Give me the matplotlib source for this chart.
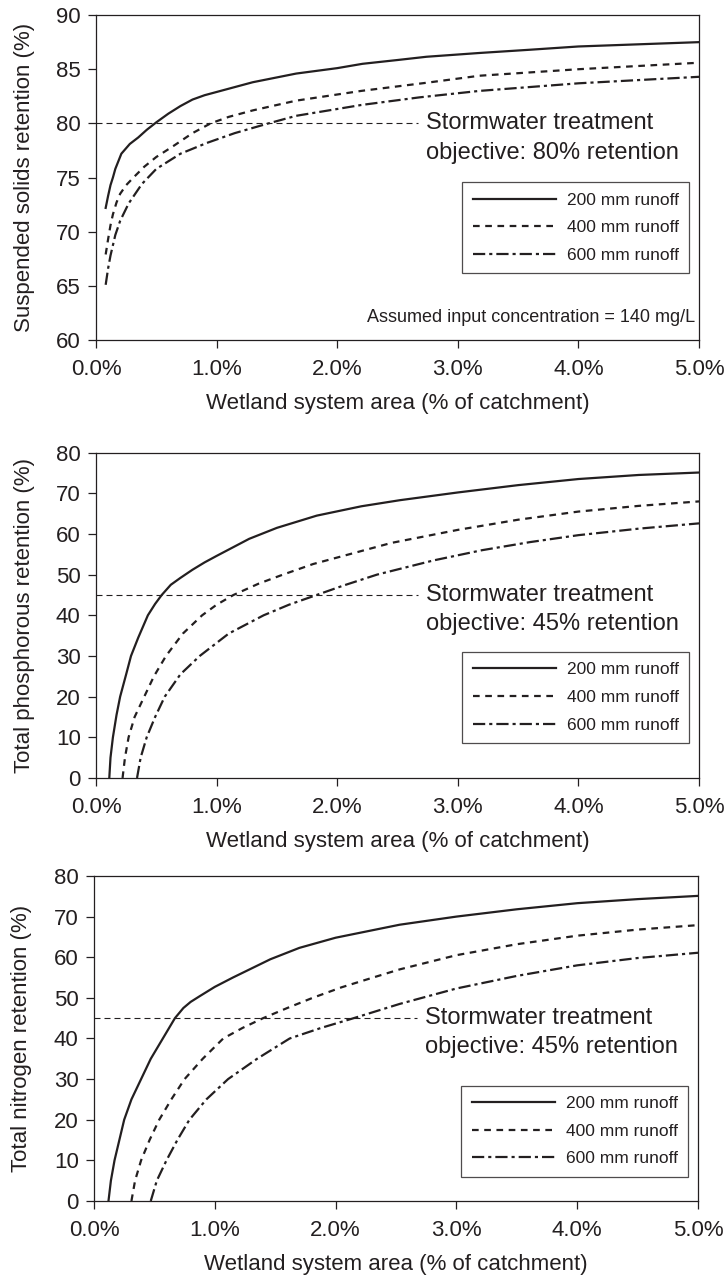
import numpy as np
import matplotlib
matplotlib.use("Agg")
import matplotlib.pyplot as plt

plt.rcParams['font.family'] = ['Liberation Sans', 'DejaVu Sans']

INK = '#231f20'

# x = wetland area (% of catchment), y = retention (%)
#%% suspended solids
ss_x_200 = [0.08, 0.10, 0.12, 0.14, 0.16, 0.21, 0.28, 0.35, 0.42, 0.50, 0.60, 0.70, 0.80, 0.90, 1.00,
            1.30, 1.66, 2.00, 2.21, 2.50, 2.74, 3.18, 3.60, 4.00, 4.50, 5.00]
ss_y_200 = [72.2, 73.3, 74.3, 75.0, 75.8, 77.2, 78.1, 78.7, 79.4, 80.1, 80.9, 81.6, 82.2, 82.6, 82.9,
            83.8, 84.6, 85.1, 85.5, 85.85, 86.15, 86.5, 86.8, 87.1, 87.3, 87.5]
ss_x_400 = [0.08, 0.10, 0.12, 0.14, 0.17, 0.20, 0.25, 0.31, 0.40, 0.50, 0.64, 0.80, 0.95, 1.10, 1.30,
            1.66, 2.20, 2.74, 3.18, 4.00, 4.50, 5.00]
ss_y_400 = [67.9, 69.3, 70.6, 71.6, 72.7, 73.5, 74.3, 75.0, 76.0, 76.9, 77.9, 79.1, 80.0, 80.6, 81.2,
            82.1, 83.0, 83.75, 84.4, 85.0, 85.3, 85.6]
ss_x_600 = [0.08, 0.10, 0.12, 0.16, 0.20, 0.27, 0.38, 0.50, 0.70, 0.92, 1.15, 1.43, 1.66, 2.20, 2.68,
            3.18, 4.00, 4.50, 5.00]
ss_y_600 = [65.1, 66.6, 67.8, 69.7, 71.0, 72.6, 74.4, 75.8, 77.2, 78.2, 79.1, 80.0, 80.7, 81.7, 82.4,
            83.0, 83.7, 84.0, 84.3]

#%% total phosphorous
tp_x_200 = [0.11, 0.12, 0.14, 0.17, 0.20, 0.25, 0.29, 0.35, 0.43, 0.49, 0.545, 0.62, 0.70, 0.80, 0.90,
            1.00, 1.27, 1.50, 1.83, 2.20, 2.52, 3.00, 3.50, 4.00, 4.50, 5.00]
tp_y_200 = [0.0, 5.0, 10.0, 15.5, 20.0, 25.5, 30.0, 34.5, 40.0, 42.8, 45.0, 47.5, 49.2, 51.2, 53.0,
            54.6, 58.8, 61.5, 64.5, 66.8, 68.3, 70.2, 72.0, 73.5, 74.5, 75.1]
tp_x_400 = [0.22, 0.24, 0.27, 0.32, 0.40, 0.48, 0.58, 0.72, 0.88, 1.00, 1.14, 1.35, 1.55, 1.80, 2.10,
            2.45, 3.00, 3.50, 4.00, 4.50, 5.00]
tp_y_400 = [0.0, 5.0, 10.0, 15.0, 20.0, 25.0, 30.0, 35.5, 40.0, 42.6, 45.0, 47.8, 50.0, 52.6, 55.0,
            57.8, 61.0, 63.5, 65.5, 66.9, 68.0]
tp_x_600 = [0.34, 0.37, 0.42, 0.49, 0.57, 0.70, 0.86, 1.10, 1.39, 1.60, 1.83, 2.05, 2.33, 2.80, 3.20,
            3.60, 4.00, 4.50, 5.00]
tp_y_600 = [0.0, 5.0, 10.0, 15.0, 20.0, 25.5, 30.0, 35.5, 40.0, 42.6, 45.0, 47.3, 50.0, 53.5, 56.0,
            58.0, 59.7, 61.3, 62.6]

#%% total nitrogen
tn_x_200 = [0.12, 0.14, 0.17, 0.21, 0.25, 0.31, 0.39, 0.47, 0.57, 0.67, 0.74, 0.80, 0.88, 1.00, 1.15,
            1.46, 1.70, 2.00, 2.53, 3.00, 3.50, 4.00, 4.50, 5.00]
tn_y_200 = [0.0, 5.0, 10.0, 15.0, 20.0, 25.0, 30.0, 35.0, 40.0, 45.0, 47.5, 49.0, 50.5, 52.7, 55.0,
            59.5, 62.3, 64.8, 68.0, 70.0, 71.8, 73.3, 74.3, 75.1]
tn_x_400 = [0.31, 0.34, 0.39, 0.46, 0.54, 0.64, 0.75, 0.90, 1.07, 1.23, 1.40, 1.60, 1.81, 2.05, 2.31,
            2.53, 3.00, 3.50, 4.00, 4.50, 5.00]
tn_y_400 = [0.0, 5.0, 10.0, 15.0, 20.0, 25.0, 30.0, 35.0, 40.0, 42.6, 45.0, 47.5, 50.0, 52.6, 55.0,
            57.0, 60.5, 63.2, 65.3, 66.8, 67.9]
tn_x_600 = [0.47, 0.52, 0.60, 0.69, 0.79, 0.93, 1.11, 1.35, 1.62, 1.88, 2.15, 2.53, 3.00, 3.50, 4.00,
            4.50, 5.00]
tn_y_600 = [0.0, 5.0, 10.0, 15.0, 20.0, 25.0, 30.0, 35.0, 40.0, 42.6, 45.0, 48.5, 52.3, 55.4, 58.0,
            59.8, 61.1]

runoff_labels = ['200 mm runoff', '400 mm runoff', '600 mm runoff']
x_ticks = [0, 1, 2, 3, 4, 5]
x_ticklabels = ['0.0%', '1.0%', '2.0%', '3.0%', '4.0%', '5.0%']
x_title = 'Wetland system area (% of catchment)'

panels = [
    dict(rect=[0.1319, 0.7335, 0.8283, 0.2547], ylim=(60, 90), yticks=np.arange(60, 91, 5),
         ylabel='Suspended solids retention (%)', target=80,
         note=['Stormwater treatment', 'objective: 80% retention'],
         series=[(ss_x_200, ss_y_200), (ss_x_400, ss_y_400), (ss_x_600, ss_y_600)],
         legend_top=0.486, extra='Assumed input concentration = 140 mg/L'),
    dict(rect=[0.1319, 0.3903, 0.8283, 0.2550], ylim=(0, 80), yticks=np.arange(0, 81, 10),
         ylabel='Total phosphorous retention (%)', target=45,
         note=['Stormwater treatment', 'objective: 45% retention'],
         series=[(tp_x_200, tp_y_200), (tp_x_400, tp_y_400), (tp_x_600, tp_y_600)],
         legend_top=0.388, extra=None),
    dict(rect=[0.1291, 0.0588, 0.8297, 0.2547], ylim=(0, 80), yticks=np.arange(0, 81, 10),
         ylabel='Total nitrogen retention (%)', target=45,
         note=['Stormwater treatment', 'objective: 45% retention'],
         series=[(tn_x_200, tn_y_200), (tn_x_400, tn_y_400), (tn_x_600, tn_y_600)],
         legend_top=0.355, extra=None),
]

styles = [dict(linestyle='-'),
          dict(dashes=(3.0, 2.5)),
          dict(dashes=(5.5, 1.8, 1.4, 1.8))]

fig = plt.figure(figsize=(7.28, 12.76), dpi=100)

for p in panels:
    ax = fig.add_axes(p['rect'])
    for (xs, ys), st, lab in zip(p['series'], styles, runoff_labels):
        ax.plot(xs, ys, color=INK, lw=1.6, label=lab, **st)

    # objective line with its two-line note
    ax.plot([0, 2.67], [p['target'], p['target']], color=INK, lw=0.8, dashes=(5.4, 3.6))
    ax.annotate(p['note'][0], xy=(2.74, p['target']), fontsize=17, color=INK,
                ha='left', va='center')
    ax.annotate(p['note'][1], xy=(2.74, p['target']), xytext=(0, -21),
                textcoords='offset points', fontsize=17, color=INK, ha='left', va='center')

    ax.set_xlim(0, 5)
    ax.set_ylim(*p['ylim'])
    ax.set_xticks(x_ticks)
    ax.set_xticklabels(x_ticklabels)
    ax.set_yticks(p['yticks'])
    ax.tick_params(direction='out', length=6, width=0.9, color=INK, labelcolor=INK,
                   labelsize=16, pad=5)
    ax.tick_params(axis='x', pad=8)
    for s in ax.spines.values():
        s.set_color(INK)
        s.set_linewidth(0.9)

    ax.set_ylabel(p['ylabel'], fontsize=16, color=INK)
    ax.yaxis.set_label_coords(-0.102, 0.5)
    ax.set_xlabel(x_title, fontsize=16, color=INK)
    ax.xaxis.set_label_coords(0.5, -0.163)

    leg = ax.legend(loc='upper right', bbox_to_anchor=(0.984, p['legend_top']),
                    fontsize=12.5, frameon=True, fancybox=False, shadow=False,
                    handlelength=4.8, handletextpad=0.63, labelspacing=0.72,
                    borderpad=0.6, borderaxespad=0)
    leg.get_frame().set_edgecolor(INK)
    leg.get_frame().set_linewidth(0.9)
    for t in leg.get_texts():
        t.set_color(INK)

    if p['extra']:
        ax.text(0.993, 0.07, p['extra'], fontsize=13, color=INK, ha='right', va='center',
                transform=ax.transAxes)

fig.savefig('out.png', dpi=100)
